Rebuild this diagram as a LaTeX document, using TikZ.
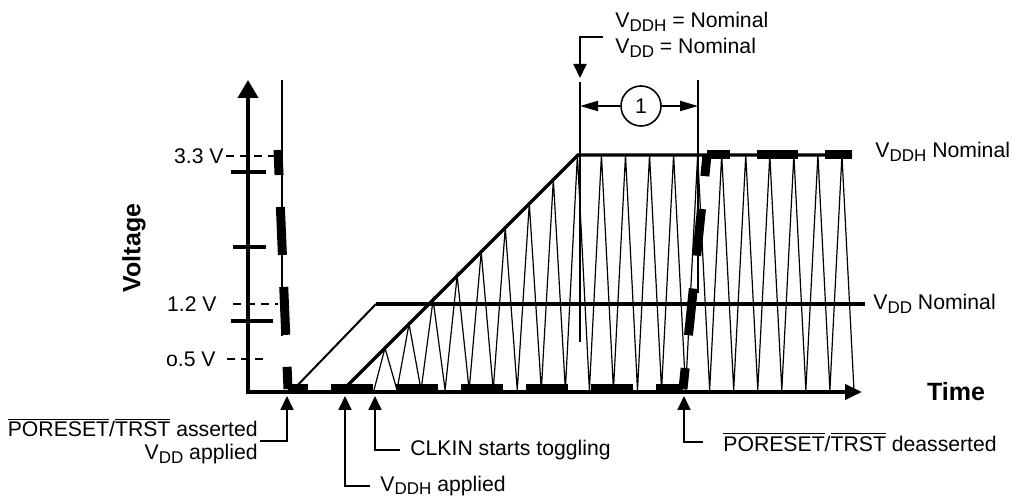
\documentclass[tikz,border=0pt]{standalone}
\usepackage{fontspec}
\setmainfont{Liberation Sans}
\usetikzlibrary{arrows.meta}
% V with a subscript, as in the timing sheets
\newcommand{\vsub}[1]{V\raisebox{-0.3ex}{\fontsize{8.5}{9}\selectfont #1}}
\newcommand{\ovl}[1]{$\overline{\mbox{#1}}$}
\tikzset{
    % Axes and ticks
    axisline/.style={
        line width=2pt
    },
    ytick/.style={
        line width=2pt
    },
    % Dashed level guides
    refdash/.style={
        line width=1.2pt,
        dash pattern=on 4pt off 3pt
    },
    % Supply rails
    railline/.style={
        line width=1.6pt
    },
    rampthin/.style={
        line width=1pt
    },
    % Clock trace
    clkline/.style={
        line width=0.6pt
    },
    % Thin marker lines
    marker/.style={
        line width=1pt
    },
    % Reset signal (thick dashes)
    resetline/.style={
        line width=4.5pt
    },
    % Callout arrows
    callout/.style={
        line width=1pt,
        -{Triangle[length=7pt,width=6.5pt]}
    },
    dimarrow/.style={
        line width=1pt,
        -{Triangle[length=9pt,width=5pt]}
    },
    % Labels
    lbl/.style={
        font=\fontsize{10.6}{11.5}\selectfont,
        inner sep=1pt
    },
    axislbl/.style={
        font=\fontsize{12.5}{14}\selectfont\bfseries
    }
}
\begin{document}
\begin{tikzpicture}[x=0.5pt, y=-0.5pt]
        \useasboundingbox (0,0) rectangle (1018,502);

        % Clock trace under the VDDH envelope
        \draw[clkline] (374,390)
            \foreach \k in {0,...,19} {
                -- ({385+24.05*\k},{max(155,733-385-24.05*\k)})
                -- ({397+24.05*\k},390)
            };

        % Supply rails
        \draw[railline] (343,390) -- (578,155) -- (852,155);
        \draw[rampthin] (293,390) -- (376,304);
        \draw[railline] (376,304) -- (865,304);

        % Axes
        \draw[axisline, {Triangle[length=9pt,width=10pt]}-{Triangle[length=8.5pt,width=7.5pt]}]
            (248,80) |- (862,392);
        \draw[ytick] (231,172) -- (266,172);
        \draw[ytick] (233,247) -- (266,247);
        \draw[ytick] (231,321) -- (273,321);

        % Level guides
        \node[lbl, anchor=east] (v33) at (226,156) {3.3 V};
        \node[lbl, anchor=east] (v12) at (219,304) {1.2 V};
        \node[lbl, anchor=east] (v05) at (218,359) {o.5 V};
        \draw[refdash] (v33.east) -- (277,156);
        \draw[refdash] (233,304) -- (278,304);
        \draw[refdash] (227,359) -- (267,359);

        \node[axislbl, rotate=90] (volt) at (134,248) {Voltage};
        \node[axislbl] (time) at (956,392) {Time};

        % Marker lines
        \draw[marker] (282,80) -- (282,336);
        \draw[marker] (580,82) -- (580,342);
        \draw[marker] (698,80) -- (698,293);

        % Reset signal
        \draw[resetline, dash pattern=on 24pt off 16pt, dash phase=11.5pt] (278,150) -- (288,389);
        \draw[resetline, dash pattern=on 21pt off 11.5pt, dash phase=11pt] (288,389) -- (683,389);
        \draw[resetline, dash pattern=on 23.5pt off 16.5pt, dash phase=13pt] (683,389) -- (707,155);
        \draw[resetline, dash pattern=on 20.5pt off 13.5pt, dash phase=9pt] (707,155) -- (852,155);

        % Rail names
        \node[lbl, anchor=west] (ddhnom) at (873,152) {\vsub{DDH} Nominal};
        \node[lbl, anchor=west] (ddnom) at (871,304) {\vsub{DD} Nominal};

        % Both rails nominal
        \node[lbl, anchor=west, align=left, font=\fontsize{10.6}{13}\selectfont] (nom) at (613,35)
            {\vsub{DDH} = Nominal\\\vsub{DD} = Nominal};
        \coordinate (nomA) at (603,37);
        \coordinate (nomTip) at (580,78);
        \draw[callout] (nomA) -| (nomTip);

        % Delay 1
        \node[draw, circle, line width=0.8pt, minimum size=20pt, inner sep=0pt, lbl] (one) at (641,106) {1};
        \coordinate (dimL) at (580,106);
        \coordinate (dimR) at (698,106);
        \draw[dimarrow] (one) -- (dimL);
        \draw[dimarrow] (one) -- (dimR);

        % Events on the time axis
        \coordinate (tipA) at (287,396);
        \coordinate (tipB) at (345,396);
        \coordinate (tipC) at (375,396);
        \coordinate (tipD) at (684,396);
        \node[lbl, anchor=east, align=right] (asrt) at (260,441)
            {\ovl{PORESET}/\ovl{TRST} asserted\\\vsub{DD} applied};
        \node[lbl, anchor=west] (ddhapp) at (378,486) {\vsub{DDH} applied};
        \node[lbl, anchor=west] (clkin) at (408,450) {CLKIN starts toggling};
        \node[lbl, anchor=west] (deas) at (721,442) {\ovl{PORESET}/\ovl{TRST} deasserted};
        \draw[callout] (asrt.east) -| (tipA);
        \draw[callout] ([xshift=-4pt]ddhapp.west) -| (tipB);
        \draw[callout] ([xshift=-4pt]clkin.west) -| (tipC);
        \draw[callout] ([xshift=-9pt]deas.west) -| (tipD);
\end{tikzpicture}
\end{document}
